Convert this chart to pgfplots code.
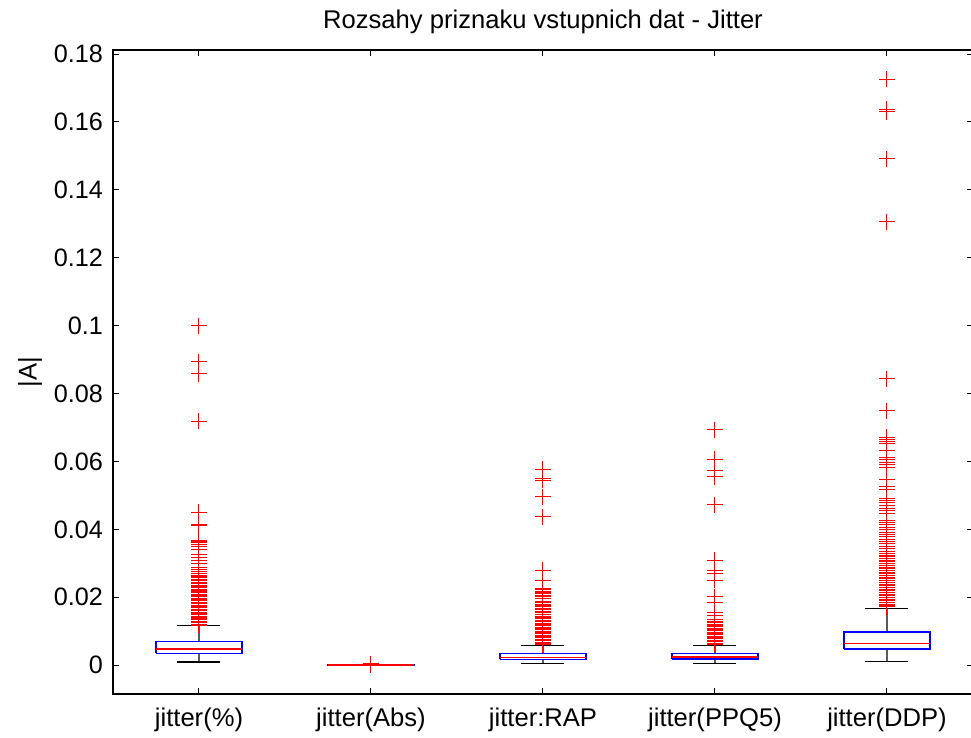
\documentclass[border=0pt]{standalone}
\usepackage{fontspec}
\setmainfont{Liberation Sans}
\usepackage{pgfplots}
\pgfplotsset{compat=1.18}
\definecolor{mblue}{RGB}{0,0,255}
\definecolor{mred}{RGB}{255,0,0}
\definecolor{mgray}{RGB}{90,90,90}
\begin{document}
\begin{tikzpicture}
\useasboundingbox (-56.5pt,-22pt) rectangle (429pt,347pt);
\begin{axis}[
  at={(0pt,0pt)}, anchor=south west,
  scale only axis,
  width=430pt, height=322pt,
  xmin=0.5, xmax=5.5,
  ymin=-0.0085, ymax=0.1812,
  xtick={1,2,3,4,5},
  xticklabels={jitter(\%),jitter(Abs),jitter:RAP,jitter(PPQ5),jitter(DDP)},
  ytick={0,0.02,0.04,0.06,0.08,0.1,0.12,0.14,0.16,0.18},
  yticklabel style={/pgf/number format/fixed,/pgf/number format/precision=2,/pgf/number format/assume math mode=true,font=\fontsize{12.6pt}{15pt}\selectfont, xshift=-1.5pt},
  xticklabel style={font=\fontsize{12.8pt}{15pt}\selectfont, yshift=-3.5pt},
  scaled y ticks=false,
  tick align=inside,
  major tick length=3pt,
  tick style={black, line width=0.5pt},
  axis line style={black, line width=0.6pt},
  title={Rozsahy priznaku vstupnich dat - Jitter},
  title style={at={(axis description cs:0.5,1.0435)}, anchor=center, yshift=-6pt, font=\fontsize{12.8pt}{15pt}\selectfont},
  ylabel={|A|},
  ylabel style={at={(axis description cs:-0.0965,0.5)}, anchor=center, font=\fontsize{12.8pt}{15pt}\selectfont},
]
% ---------- jitter(%) ----------
\addplot[mgray, line width=0.6pt, forget plot] coordinates {(1,0.00700) (1,0.0116)};
\addplot[mgray, line width=0.6pt, forget plot] coordinates {(1,0.00345) (1,0.00095)};
\addplot[black, line width=0.6pt, forget plot] coordinates {(0.875,0.0116) (1.125,0.0116)};
\addplot[black, line width=0.6pt, forget plot] coordinates {(0.875,0.00095) (1.125,0.00095)};
\addplot[mblue, line width=0.75pt, forget plot] coordinates {(0.75,0.00345) (1.25,0.00345) (1.25,0.00700) (0.75,0.00700) (0.75,0.00345)};
\addplot[mred, line width=0.7pt, forget plot] coordinates {(0.75,0.0048) (1.25,0.0048)};
\addplot[mred, only marks, mark=+, mark size=4pt, line width=0.5pt, forget plot] coordinates {(1,0.0999) (1,0.0894) (1,0.0859) (1,0.0718) (1,0.0450) (1,0.0413) (1,0.0410) (1,0.0368) (1,0.0364) (1,0.0360) (1,0.0354) (1,0.0349) (1,0.0341) (1,0.0327) (1,0.0318) (1,0.0309) (1,0.0300) (1,0.0287) (1,0.0282) (1,0.0275) (1,0.0270) (1,0.0265) (1,0.0262) (1,0.0257) (1,0.0252) (1,0.0249) (1,0.0244) (1,0.0241) (1,0.0236) (1,0.0233) (1,0.0229) (1,0.0224) (1,0.0221) (1,0.0216) (1,0.0213) (1,0.0209) (1,0.0204) (1,0.0201) (1,0.0196) (1,0.0193) (1,0.0189) (1,0.0184) (1,0.0181) (1,0.0177) (1,0.0172) (1,0.0169) (1,0.0165) (1,0.0161) (1,0.0156) (1,0.0153) (1,0.0149) (1,0.0144) (1,0.0141) (1,0.0137) (1,0.0133) (1,0.0129) (1,0.0125) (1,0.0121) (1,0.0118)};
% ---------- jitter(Abs) ----------
\addplot[mgray, line width=0.6pt, forget plot] coordinates {(2,0.0000532) (2,0.0000990)};
\addplot[mgray, line width=0.6pt, forget plot] coordinates {(2,0.0000224) (2,0.0000023)};
\addplot[black, line width=0.6pt, forget plot] coordinates {(1.875,0.0000990) (2.125,0.0000990)};
\addplot[black, line width=0.6pt, forget plot] coordinates {(1.875,0.0000023) (2.125,0.0000023)};
\addplot[mblue, line width=0.75pt, forget plot] coordinates {(1.75,0.0000224) (2.25,0.0000224) (2.25,0.0000532) (1.75,0.0000532) (1.75,0.0000224)};
\addplot[mred, line width=0.7pt, forget plot] coordinates {(1.75,0.0000345) (2.25,0.0000345)};
\addplot[mred, only marks, mark=+, mark size=4pt, line width=0.5pt, forget plot] coordinates {(2,0.000105) (2,0.00012) (2,0.00014) (2,0.00016) (2,0.00019) (2,0.00022) (2,0.00026) (2,0.00031) (2,0.00037) (2,0.000446)};
% ---------- jitter:RAP ----------
\addplot[mgray, line width=0.6pt, forget plot] coordinates {(3,0.00340) (3,0.0057)};
\addplot[mgray, line width=0.6pt, forget plot] coordinates {(3,0.00170) (3,0.0004)};
\addplot[black, line width=0.6pt, forget plot] coordinates {(2.875,0.0057) (3.125,0.0057)};
\addplot[black, line width=0.6pt, forget plot] coordinates {(2.875,0.0004) (3.125,0.0004)};
\addplot[mblue, line width=0.75pt, forget plot] coordinates {(2.75,0.00170) (3.25,0.00170) (3.25,0.00340) (2.75,0.00340) (2.75,0.00170)};
\addplot[mred, line width=0.7pt, forget plot] coordinates {(2.75,0.00227) (3.25,0.00227)};
\addplot[mred, only marks, mark=+, mark size=4pt, line width=0.5pt, forget plot] coordinates {(3,0.0577) (3,0.0550) (3,0.0544) (3,0.0496) (3,0.0437) (3,0.0280) (3,0.0250) (3,0.0226) (3,0.0222) (3,0.0218) (3,0.0213) (3,0.0210) (3,0.0205) (3,0.0201) (3,0.0197) (3,0.0188) (3,0.0184) (3,0.0180) (3,0.0175) (3,0.0172) (3,0.0168) (3,0.0163) (3,0.0159) (3,0.0154) (3,0.0148) (3,0.0144) (3,0.0140) (3,0.0136) (3,0.0132) (3,0.0128) (3,0.0124) (3,0.0120) (3,0.0116) (3,0.0112) (3,0.0108) (3,0.0104) (3,0.0100) (3,0.0096) (3,0.0092) (3,0.0088) (3,0.0084) (3,0.0080) (3,0.0076) (3,0.0072) (3,0.0068) (3,0.0064) (3,0.0060)};
% ---------- jitter(PPQ5) ----------
\addplot[mgray, line width=0.6pt, forget plot] coordinates {(4,0.00345) (4,0.0058)};
\addplot[mgray, line width=0.6pt, forget plot] coordinates {(4,0.00175) (4,0.00045)};
\addplot[black, line width=0.6pt, forget plot] coordinates {(3.875,0.0058) (4.125,0.0058)};
\addplot[black, line width=0.6pt, forget plot] coordinates {(3.875,0.00045) (4.125,0.00045)};
\addplot[mblue, line width=0.75pt, forget plot] coordinates {(3.75,0.00175) (4.25,0.00175) (4.25,0.00345) (3.75,0.00345) (3.75,0.00175)};
\addplot[mred, line width=0.7pt, forget plot] coordinates {(3.75,0.00235) (4.25,0.00235)};
\addplot[mred, only marks, mark=+, mark size=4pt, line width=0.5pt, forget plot] coordinates {(4,0.0694) (4,0.0607) (4,0.0572) (4,0.0555) (4,0.0473) (4,0.0309) (4,0.0278) (4,0.0270) (4,0.0250) (4,0.0201) (4,0.0185) (4,0.0155) (4,0.0147) (4,0.0133) (4,0.0129) (4,0.0125) (4,0.0121) (4,0.0117) (4,0.0113) (4,0.0109) (4,0.0105) (4,0.0101) (4,0.0097) (4,0.0093) (4,0.0089) (4,0.0085) (4,0.0081) (4,0.0077) (4,0.0073) (4,0.0069) (4,0.0065) (4,0.0061)};
% ---------- jitter(DDP) ----------
\addplot[mgray, line width=0.6pt, forget plot] coordinates {(5,0.0098) (5,0.0168)};
\addplot[mgray, line width=0.6pt, forget plot] coordinates {(5,0.0047) (5,0.0010)};
\addplot[black, line width=0.6pt, forget plot] coordinates {(4.875,0.0168) (5.125,0.0168)};
\addplot[black, line width=0.6pt, forget plot] coordinates {(4.875,0.0010) (5.125,0.0010)};
\addplot[mblue, line width=0.75pt, forget plot] coordinates {(4.75,0.0047) (5.25,0.0047) (5.25,0.0098) (4.75,0.0098) (4.75,0.0047)};
\addplot[mred, line width=0.7pt, forget plot] coordinates {(4.75,0.0064) (5.25,0.0064)};
\addplot[mred, only marks, mark=+, mark size=4pt, line width=0.5pt, forget plot] coordinates {(5,0.1726) (5,0.1637) (5,0.1630) (5,0.1491) (5,0.1306) (5,0.0843) (5,0.0749) (5,0.0671) (5,0.0665) (5,0.0659) (5,0.0653) (5,0.0631) (5,0.0613) (5,0.0605) (5,0.0597) (5,0.0590) (5,0.0583) (5,0.0548) (5,0.0525) (5,0.0518) (5,0.0492) (5,0.0486) (5,0.0478) (5,0.0470) (5,0.0462) (5,0.0455) (5,0.0448) (5,0.0427) (5,0.0420) (5,0.0413) (5,0.0406) (5,0.0399) (5,0.0392) (5,0.0385) (5,0.0378) (5,0.0371) (5,0.0364) (5,0.0357) (5,0.0350) (5,0.0343) (5,0.0336) (5,0.0330) (5,0.0324) (5,0.0319) (5,0.0314) (5,0.0309) (5,0.0304) (5,0.0299) (5,0.0294) (5,0.0289) (5,0.0284) (5,0.0279) (5,0.0274) (5,0.0269) (5,0.0264) (5,0.0259) (5,0.0254) (5,0.0249) (5,0.0244) (5,0.0239) (5,0.0234) (5,0.0229) (5,0.0224) (5,0.0219) (5,0.0214) (5,0.0209) (5,0.0204) (5,0.0199) (5,0.0194) (5,0.0189) (5,0.0184) (5,0.0179) (5,0.0175) (5,0.0172)};
\end{axis}
\end{tikzpicture}
\end{document}
